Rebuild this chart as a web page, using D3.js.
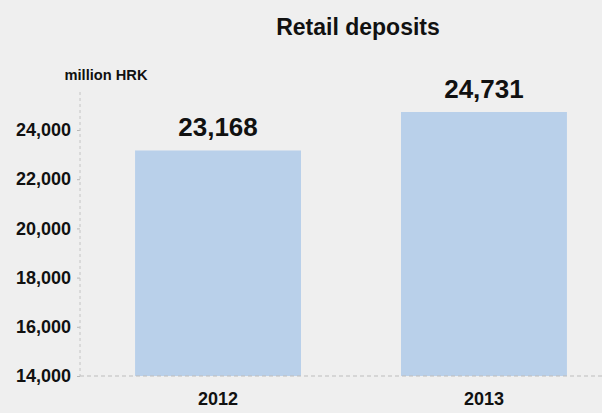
<!DOCTYPE html>
<html>
<head>
<meta charset="utf-8">
<script src="https://cdn.jsdelivr.net/npm/d3@7"></script>
<style>
  html, body { margin: 0; padding: 0; background: #efefef; }
  svg { display: block; }
  text { font-family: "Liberation Sans", Arial, sans-serif; font-weight: bold; fill: #111; }
</style>
</head>
<body>
<svg id="chart" width="602" height="413"></svg>
<script>
const categories = ["2012", "2013"];
const values = [23168, 24731];
const valueLabels = ["23,168", "24,731"];
const yTicks = [14000, 16000, 18000, 20000, 22000, 24000];
const title = "Retail deposits";
const unitLabel = "million HRK";

const W = 602, H = 413;
const svg = d3.select("#chart");
svg.append("rect").attr("width", W).attr("height", H).attr("fill", "#efefef");

const x = d3.scaleBand().domain(categories).range([80, 622]).paddingInner(0.376).paddingOuter(0.207);
const y = d3.scaleLinear().domain([14000, 24000]).range([376, 130]);

// Title
svg.append("text").attr("x", 358).attr("y", 35).attr("text-anchor", "middle")
  .style("font-size", "23px").text(title);
svg.append("text").attr("x", 106).attr("y", 80).attr("text-anchor", "middle")
  .style("font-size", "14.5px").attr("textLength", 83).attr("lengthAdjust", "spacingAndGlyphs").text(unitLabel);

// Y axis
const yAxis = d3.axisLeft(y).tickValues(yTicks).tickSize(3).tickPadding(6)
  .tickFormat(d3.format(","));
const gy = svg.append("g").attr("transform", "translate(80,0)").call(yAxis);
gy.select(".domain").remove();
gy.selectAll(".tick line").attr("stroke", "#b8b8b8");
gy.selectAll(".tick text").style("font-size", "18px").attr("fill", "#111").attr("font-family", null);
svg.append("line").attr("x1", 80).attr("x2", 80).attr("y1", 92).attr("y2", y(14000))
  .attr("stroke", "#c4c4c4").attr("stroke-width", 1).attr("stroke-dasharray", "3,3");

// Bars
svg.selectAll("rect.bar").data(categories).join("rect").attr("class", "bar")
  .attr("x", d => x(d)).attr("width", x.bandwidth())
  .attr("y", (d, i) => y(values[i])).attr("height", (d, i) => y(14000) - y(values[i]))
  .attr("fill", "#b9d0ea");

// Value labels
svg.selectAll("text.val").data(categories).join("text").attr("class", "val")
  .attr("x", d => x(d) + x.bandwidth() / 2).attr("y", (d, i) => y(values[i]) - 14)
  .attr("text-anchor", "middle").style("font-size", "26px").text((d, i) => valueLabels[i]);

// X axis
const xAxis = d3.axisBottom(x).tickSize(0).tickPadding(16);
const gx = svg.append("g").attr("transform", `translate(0,${y(14000)})`).call(xAxis);
gx.select(".domain").remove();
gx.selectAll(".tick text").style("font-size", "18px").attr("fill", "#111").attr("font-family", null);
svg.append("line").attr("x1", 80).attr("x2", W).attr("y1", y(14000)).attr("y2", y(14000))
  .attr("stroke", "#bdbdbd").attr("stroke-width", 1).attr("stroke-dasharray", "4,3");
</script>
</body>
</html>
